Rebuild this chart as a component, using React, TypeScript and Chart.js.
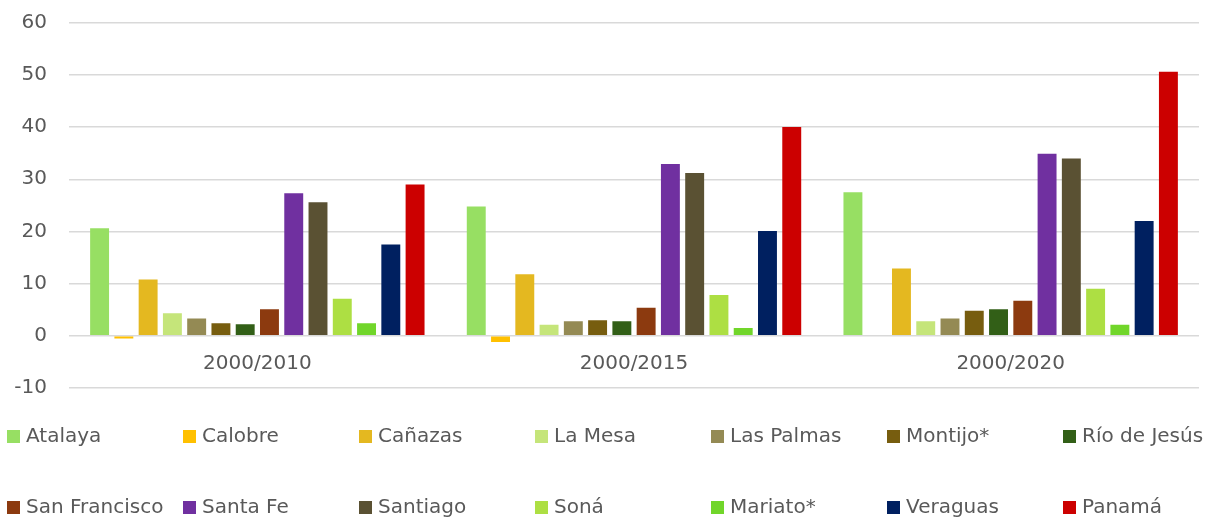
import React, { useEffect, useRef } from "react";
import { Chart, registerables } from "chart.js";

Chart.register(...registerables);

const categories = ["2000/2010", "2000/2015", "2000/2020"];

const seriesNames = [
  "Atalaya", "Calobre", "Cañazas", "La Mesa", "Las Palmas", "Montijo*", "Río de Jesús",
  "San Francisco", "Santa Fe", "Santiago", "Soná", "Mariato*", "Veraguas", "Panamá",
];

const atalaya = [20.6, 24.8, 27.5];
const calobre = [-0.5, -1.2, null];
const canazas = [10.8, 11.8, 12.9];
const laMesa = [4.3, 2.1, 2.8];
const lasPalmas = [3.3, 2.8, 3.3];
const montijo = [2.4, 3.0, 4.8];
const rioDeJesus = [2.2, 2.8, 5.1];
const sanFrancisco = [5.1, 5.4, 6.7];
const santaFe = [27.3, 32.9, 34.9];
const santiago = [25.6, 31.2, 34.0];
const sona = [7.1, 7.8, 9.0];
const mariato = [2.4, 1.5, 2.1];
const veraguas = [17.5, 20.1, 22.0];
const panama = [29.0, 40.0, 50.6];

const seriesValues = [
  atalaya, calobre, canazas, laMesa, lasPalmas, montijo, rioDeJesus,
  sanFrancisco, santaFe, santiago, sona, mariato, veraguas, panama,
];

const seriesColors = [
  "#97df63", "#ffc000", "#e4b820", "#c5e57a", "#948a54", "#775d0f", "#325f17",
  "#8c3a0f", "#7030a0", "#5a5133", "#addf43", "#71d62a", "#002060", "#cc0000",
];

const yTicks = [-10, 0, 10, 20, 30, 40, 50, 60];

const FONT = "'DejaVu Sans', sans-serif";
const TEXT = "#595959";

const gridLegend = {
  id: "gridLegend",
  afterDraw(chart: any) {
    const ctx = chart.ctx;
    ctx.save();
    ctx.font = `20px ${FONT}`;
    ctx.textBaseline = "middle";
    ctx.textAlign = "left";
    chart.data.datasets.forEach((ds: any, i: number) => {
      const col = i % 7;
      const row = Math.floor(i / 7);
      const x = 7 + col * 176;
      const yc = row === 0 ? 436.5 : 507.5;
      ctx.fillStyle = ds.backgroundColor;
      ctx.fillRect(x, yc - 6.5, 13, 13);
      ctx.fillStyle = TEXT;
      ctx.fillText(ds.label, x + 19, yc + 0.5);
    });
    ctx.restore();
  },
};

export default function App() {
  const ref = useRef<HTMLCanvasElement | null>(null);

  useEffect(() => {
    if (!ref.current) return;
    const chart = new Chart(ref.current, {
      type: "bar",
      data: {
        labels: categories,
        datasets: seriesNames.map((name, i) => ({
          label: name,
          data: seriesValues[i],
          backgroundColor: seriesColors[i],
          borderWidth: 0,
          categoryPercentage: 0.902,
          barPercentage: 0.78,
        })),
      },
      options: {
        animation: false,
        responsive: true,
        maintainAspectRatio: false,
        layout: { padding: { left: 14.4, right: 17, top: 22.7, bottom: 132 } },
        plugins: {
          legend: { display: false },
          tooltip: { enabled: false },
        },
        scales: {
          x: {
            position: { y: 0 } as any,
            grid: { display: false, drawTicks: false },
            border: { display: false },
            ticks: {
              color: TEXT,
              font: { family: FONT, size: 20 },
              padding: 16,
            },
          },
          y: {
            min: -10,
            max: 60,
            afterBuildTicks: (scale: any) => {
              scale.ticks = yTicks.map((v) => ({ value: v }));
            },
            afterFit: (scale: any) => {
              scale.width = 54.6;
              scale.paddingTop = 0;
              scale.paddingBottom = 0;
            },
            grid: { color: "#d9d9d9", lineWidth: 1.5, drawTicks: false },
            border: { display: false },
            ticks: {
              color: TEXT,
              font: { family: FONT, size: 20 },
              padding: 22,
            },
          },
        },
      },
      plugins: [gridLegend],
    });
    return () => chart.destroy();
  }, []);

  return (
    <div style={{ position: "fixed", left: 0, top: 0, width: 1216, height: 520, background: "#fff" }}>
      <canvas ref={ref} />
    </div>
  );
}
